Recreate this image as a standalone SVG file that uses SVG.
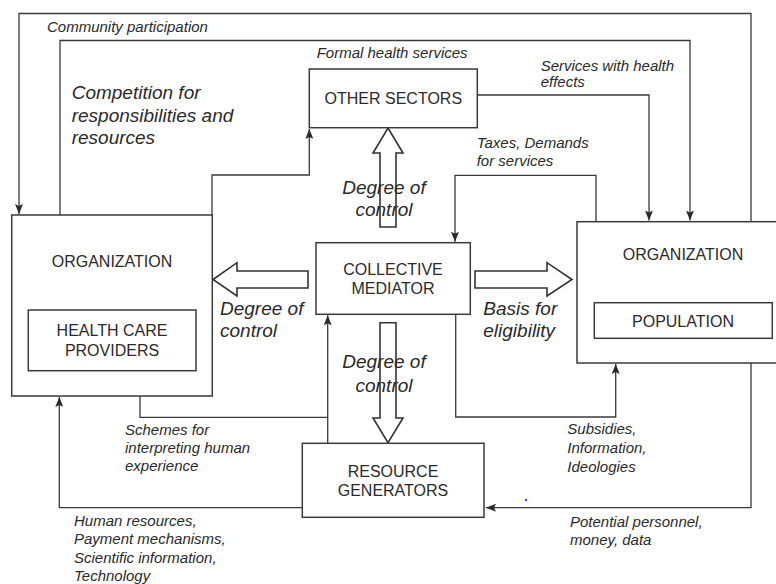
<svg xmlns="http://www.w3.org/2000/svg" width="776" height="584" viewBox="0 0 776 584">
<style>
.box{fill:#fff;stroke:#3a3a3a;stroke-width:1.5}
.ln{fill:none;stroke:#3a3a3a;stroke-width:1.3}
.big{fill:#fff;stroke:#333;stroke-width:1.6;stroke-linejoin:miter}
.nt{font-family:"Liberation Sans",Arial,sans-serif;font-size:16px;fill:#2a2a2a;text-anchor:middle}
.lb{font-family:"Liberation Sans",Arial,sans-serif;font-size:15px;font-style:italic;fill:#2a2a2a}
.lg{font-family:"Liberation Sans",Arial,sans-serif;font-size:19px;font-style:italic;fill:#2a2a2a}
.mid{text-anchor:middle}
</style>
<defs>
<marker id="ah" markerUnits="userSpaceOnUse" markerWidth="10" markerHeight="8" refX="10" refY="4" orient="auto">
<path d="M0,0 L10,4 L0,8 L2,4 z" fill="#2a2a2a"/>
</marker>
</defs>
<rect width="776" height="584" fill="#fff"/>

<g id="connectors">
<path class="ln" d="M751,221.7 V13.5 H19 V214" marker-end="url(#ah)"/>
<path class="ln" d="M60,215 V40.5 H690 V220.5" marker-end="url(#ah)"/>
<path class="ln" d="M212,215 V175 H309.3 V129" marker-end="url(#ah)"/>
<path class="ln" d="M477,95 H649 V220.5" marker-end="url(#ah)"/>
<path class="ln" d="M596,221.7 V175.3 H455 V241.7" marker-end="url(#ah)"/>
<path class="ln" d="M455.7,314.3 V417 H615.7 V364" marker-end="url(#ah)"/>
<path class="ln" d="M751,363 V507.7 H486" marker-end="url(#ah)"/>
<path class="ln" d="M302.3,507.7 H59.3 V397" marker-end="url(#ah)"/>
<path class="ln" d="M327.7,443.3 V315.3" marker-end="url(#ah)"/>
<path class="ln" d="M140,396 V417.3 H327.7"/>
<polygon class="big" points="388,128 403,153 396,153 396,227 380,227 380,153 373,153"/>
<polygon class="big" points="380,322.7 396,322.7 396,418 403,418 388,442.7 373,418 380,418"/>
<polygon class="big" points="213,279.5 237,262.7 237,271 308,271 308,288 237,288 237,296"/>
<polygon class="big" points="475,271 547,271 547,262.7 572,279.5 547,296 547,288 475,288"/>
<rect x="525" y="499" width="2" height="2" fill="#3344ee"/>
</g>

<g id="org-providers">
<rect class="box" x="11.7" y="215" width="200.6" height="181"/>
<text class="nt" x="112" y="266.7">ORGANIZATION</text>
<rect class="box" x="28.3" y="310" width="167.7" height="60.7"/>
<text class="nt" x="112" y="335.7">HEALTH CARE</text>
<text class="nt" x="112" y="355.7">PROVIDERS</text>
</g>

<g id="other-sectors">
<rect class="box" x="309.3" y="69" width="168" height="58.7"/>
<text class="nt" x="393.3" y="104">OTHER SECTORS</text>
</g>

<g id="collective-mediator">
<rect class="box" x="316" y="242.7" width="154.3" height="71.6"/>
<text class="nt" x="393" y="275">COLLECTIVE</text>
<text class="nt" x="393" y="294">MEDIATOR</text>
</g>

<g id="resource-generators">
<rect class="box" x="302.3" y="443.3" width="181.7" height="74"/>
<text class="nt" x="393" y="476.7">RESOURCE</text>
<text class="nt" x="393" y="496">GENERATORS</text>
</g>

<g id="org-population">
<rect class="box" x="577" y="221.7" width="213" height="141.3"/>
<text class="nt" x="683" y="260">ORGANIZATION</text>
<rect class="box" x="594.3" y="302.7" width="178" height="35.6"/>
<text class="nt" x="683" y="326.7">POPULATION</text>
</g>

<g id="labels">
<text class="lb" x="47" y="31.7">Community participation</text>
<text class="lb" x="316.7" y="58.3">Formal health services</text>
<text class="lb" x="540.7" y="70.7">Services with health</text>
<text class="lb" x="540.7" y="87.3">effects</text>
<text class="lb" x="476.7" y="147.7">Taxes, Demands</text>
<text class="lb" x="476.7" y="166">for services</text>
<text class="lb" x="125" y="435">Schemes for</text>
<text class="lb" x="125" y="453">interpreting human</text>
<text class="lb" x="125" y="471">experience</text>
<text class="lb" x="567.3" y="434.3">Subsidies,</text>
<text class="lb" x="567.3" y="453">Information,</text>
<text class="lb" x="567.3" y="471.7">Ideologies</text>
<text class="lb" x="74" y="526">Human resources,</text>
<text class="lb" x="74" y="544">Payment mechanisms,</text>
<text class="lb" x="74" y="562.5">Scientific information,</text>
<text class="lb" x="74" y="580.5">Technology</text>
<text class="lb" x="570" y="526.7">Potential personnel,</text>
<text class="lb" x="570" y="545">money, data</text>
<text class="lg" x="71.7" y="99.3">Competition for</text>
<text class="lg" x="71.7" y="121.7">responsibilities and</text>
<text class="lg" x="71.7" y="144">resources</text>
<text class="lg mid" x="384" y="194.3">Degree of</text>
<text class="lg mid" x="384" y="216">control</text>
<text class="lg" x="220" y="315">Degree of</text>
<text class="lg" x="220" y="336.7">control</text>
<text class="lg" x="483.3" y="315">Basis for</text>
<text class="lg" x="483.3" y="336.7">eligibility</text>
<text class="lg mid" x="384" y="368.3">Degree of</text>
<text class="lg mid" x="384" y="391.7">control</text>
</g>
</svg>
